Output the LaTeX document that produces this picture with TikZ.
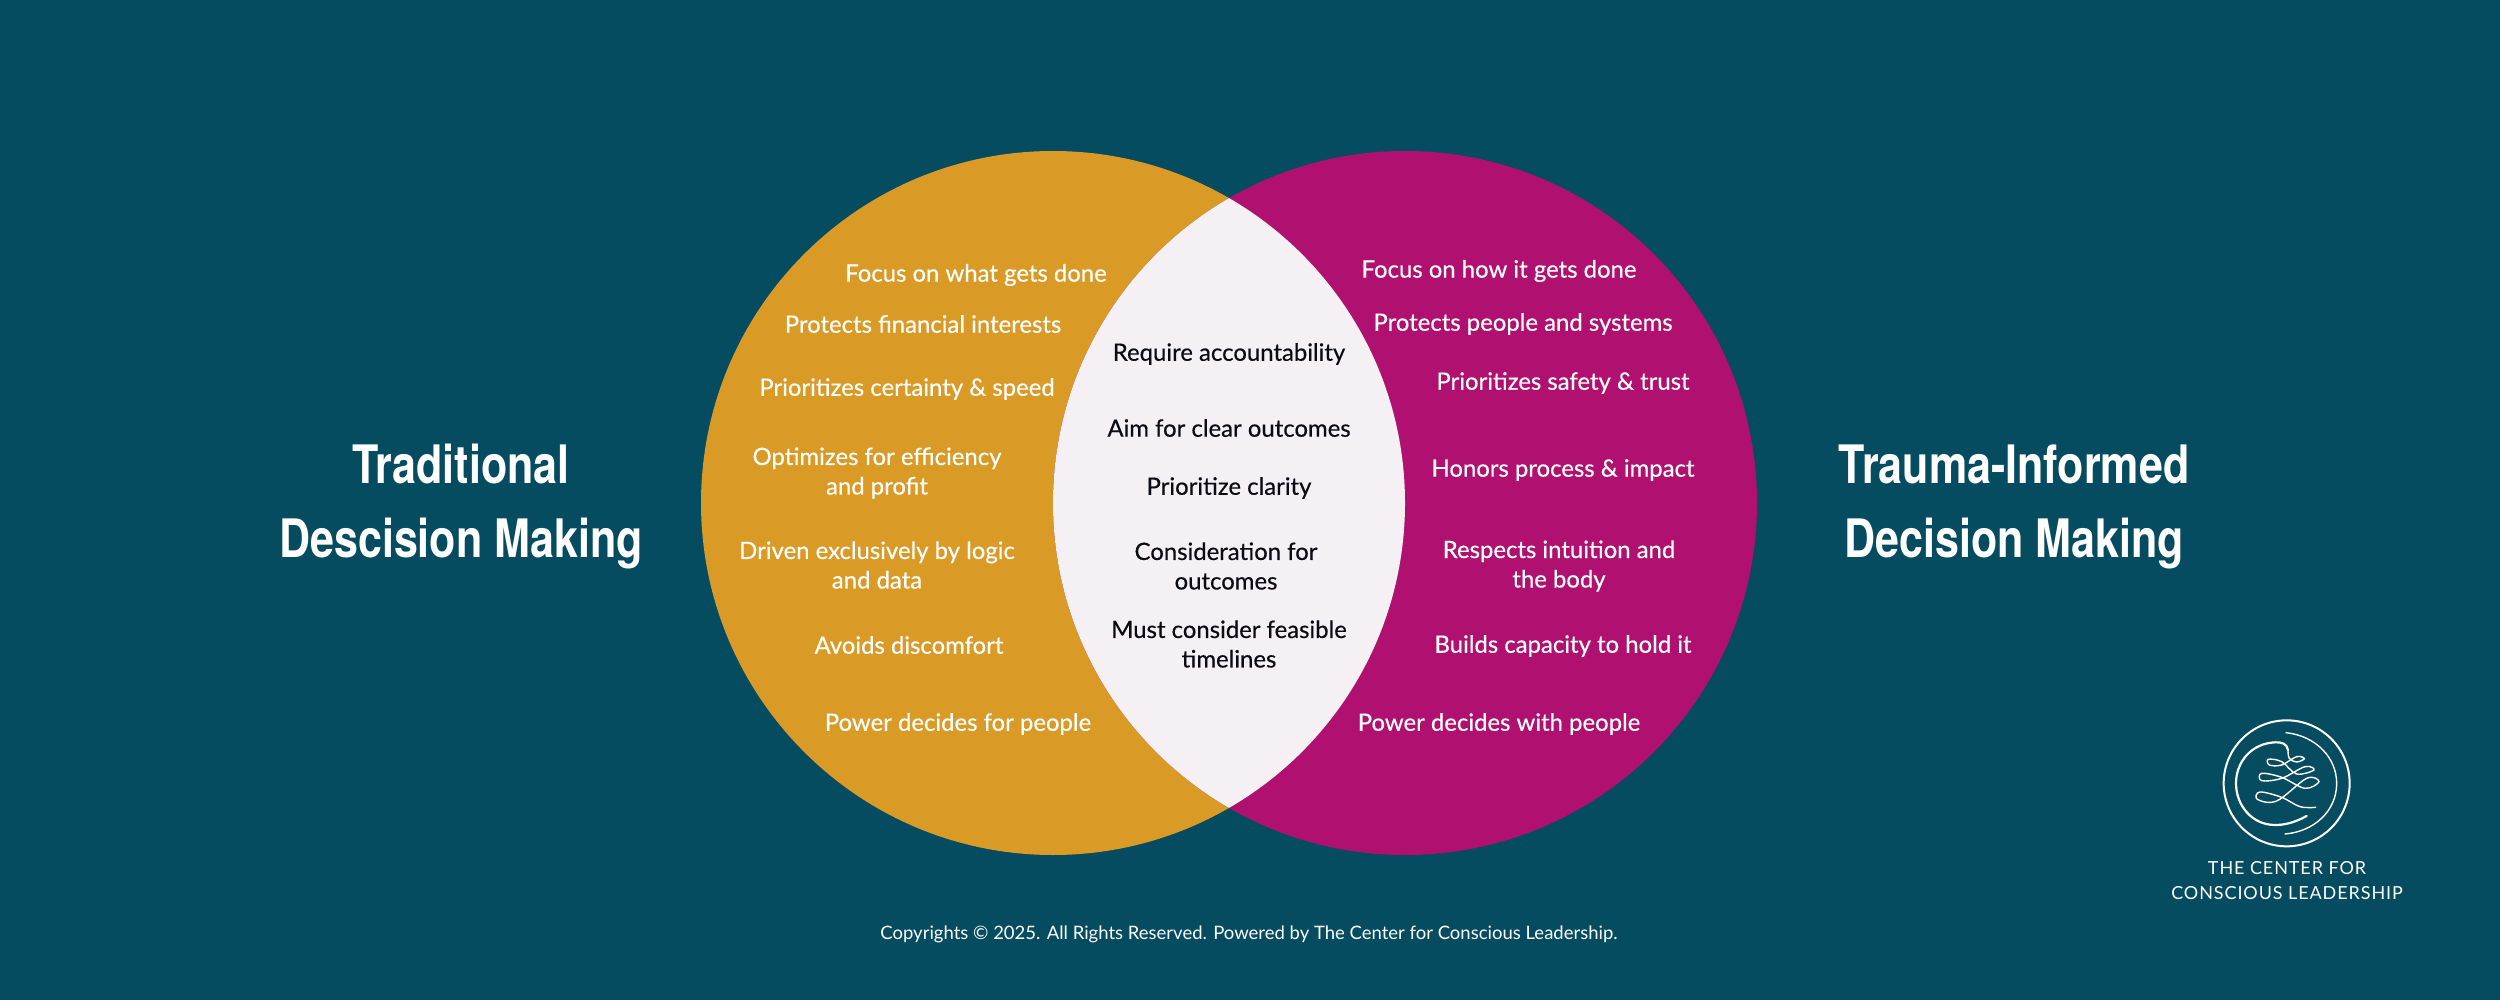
\documentclass[tikz,border=0pt]{standalone}
\usepackage{fontspec}
\setmainfont{Lato}
\newfontfamily\bodyfont[FakeBold=0.35]{Lato}
\newfontfamily\brandfont[LetterSpace=5]{Lato}
\newfontfamily\titlefont[FakeStretch=0.812]{TeX Gyre Heros}
\definecolor{bgc}{HTML}{054C61}
\definecolor{goldc}{HTML}{DA9A26}
\definecolor{magc}{HTML}{B01070}
\definecolor{lensc}{HTML}{F4F0F4}
\definecolor{inkc}{HTML}{0B0B14}
\tikzset{
  body/.style={text=white,font=\bodyfont\fontsize{23.9}{29.5}\selectfont,align=center,inner sep=0pt},
  mid/.style={body,text=inkc},
  big/.style={text=white,font=\titlefont\bfseries\fontsize{53}{74}\selectfont,align=center,inner sep=0pt},
  foot/.style={text=white,font=\fontsize{18.5}{24}\selectfont,align=center,inner sep=0pt},
  brand/.style={text=white,font=\brandfont\fontsize{18}{25}\selectfont,align=center,inner sep=0pt},
  logo/.style={draw=white,line cap=round}
}
\begin{document}
\begin{tikzpicture}[x=1pt,y=-1pt]
\useasboundingbox (0,0) rectangle (2500,1000);
\fill[bgc] (0,0) rectangle (2500,1000);
\fill[goldc] (1053,503) circle (352pt);
\fill[magc] (1405,503) circle (352pt);
\begin{scope}
  \clip (1053,503) circle (352pt);
  \fill[lensc] (1405,503) circle (352pt);
\end{scope}
\node[big] (tl) at (461,507) {Traditional\\Descision Making};
\node[big] (tr) at (2014,507) {Trauma-Informed\\Decision Making};
\node[body] (l1) at (976,275) {Focus on what gets done};
\node[body] (l2) at (923,324) {Protects financial interests};
\node[body] (l3) at (907,389) {Prioritizes certainty \& speed};
\node[body] (l4) at (877,473) {Optimizes for efficiency\\and profit};
\node[body] (l5) at (877,565) {Driven exclusively by logic\\and data};
\node[body] (l6) at (909,645) {Avoids discomfort};
\node[body] (l7) at (958,724) {Power decides for people};
\node[mid] (m1) at (1229,354) {Require accountability};
\node[mid] (m2) at (1229,428) {Aim for clear outcomes};
\node[mid] (m3) at (1229,488) {Prioritize clarity};
\node[mid] (m4) at (1226,566) {Consideration for\\outcomes};
\node[mid] (m5) at (1229,644) {Must consider feasible\\timelines};
\node[body] (r1) at (1499,271) {Focus on how it gets done};
\node[body] (r2) at (1523,324) {Protects people and systems};
\node[body] (r3) at (1563,383) {Prioritizes safety \& trust};
\node[body] (r4) at (1563,470) {Honors process \& impact};
\node[body] (r5) at (1559,566) {Respects intuition and\\the body};
\node[body] (r6) at (1563,646) {Builds capacity to hold it};
\node[body] (r7) at (1499,724) {Power decides with people};
\node[foot] (ft) at (1249,934) {Copyrights © 2025. All Rights Reserved. Powered by The Center for Conscious Leadership.};
\node[brand] (br) at (2287,881) {THE CENTER FOR\\CONSCIOUS LEADERSHIP};
\begin{scope}[shift={(2150,690)},x=0.3333pt,y=-0.3333pt]
  \draw[logo,line width=2pt] (410,280) circle (63pt);
  \draw[logo,line width=1.4pt] (408,128) .. controls (500,138) and (560,205) .. (560,280) .. controls (560,365) and (490,425) .. (405,432);
  \draw[logo,line width=2.2pt] (470,378) .. controls (430,400) and (400,405) .. (375,405) .. controls (305,405) and (258,345) .. (258,280) .. controls (258,215) and (305,160) .. (375,157) .. controls (395,156) and (410,160) .. (414,180);
  \draw[logo,line width=1.4pt] plot[smooth,tension=.6] coordinates {(414,180) (418,205) (440,216) (463,206) (440,200) (395,225) (358,225) (355,208) (395,215) (440,252) (492,240) (465,230) (395,265) (335,272) (335,250) (395,262) (465,295) (507,275) (470,265) (380,333) (322,328) (330,306) (395,322) (450,350) (497,352)};
\end{scope}
\end{tikzpicture}
\end{document}
